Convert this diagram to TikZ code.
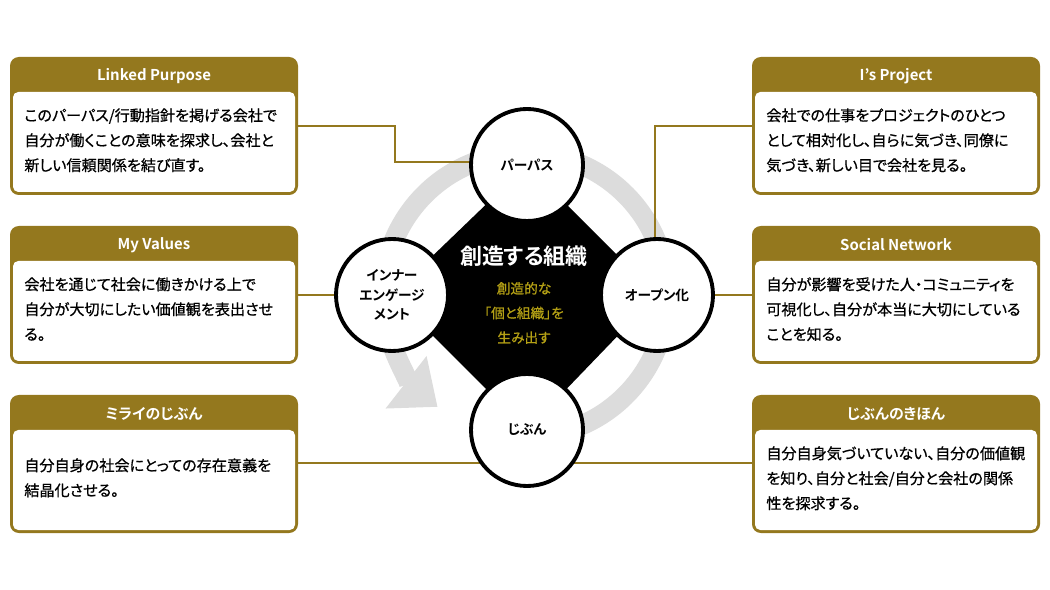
\documentclass[tikz,border=0pt]{standalone}
\usepackage{fontspec}
\usetikzlibrary{arrows.meta}
\newfontfamily\jp[RawFeature=+palt,FakeBold=0.7]{Noto Sans CJK JP}
\newfontfamily\jpb[RawFeature=+palt]{Noto Sans CJK JP Bold}
\definecolor{gold}{HTML}{94781E}
\definecolor{ring}{HTML}{DCDCDC}
\begin{document}
\begin{tikzpicture}[x=0.02cm,y=-0.02cm,
  conn/.style={gold,line width=1.6pt},
  circ/.style={circle,draw=black,line width=2.2pt,fill=white,minimum size=112*0.02cm,inner sep=0pt,align=center,font=\jpb\fontsize{7.8}{11}\selectfont},
  head/.style={text=white,font=\jpb\fontsize{8.5}{10}\selectfont},
  body/.style={anchor=north west,align=left,inner sep=0pt,font=\jp\fontsize{8.6}{14.2}\selectfont}]
\useasboundingbox (0,0) rectangle (1050,590);
% boxes
\foreach \x/\y/\n in {10/57/a,10/226/b,10/395/c,752/57/d,752/226/e,752/395/f}{
  \fill[gold,rounded corners=5] (\x,\y) rectangle ++(288,138);
  \fill[white,rounded corners=3] (\x+3,\y+35) rectangle ++(282,100);
  \coordinate (\n) at (\x,\y);
}
\node[head] (ha) at (154,76) {Linked Purpose};
\node[head] (hb) at (154,245) {My Values};
\node[head] (hc) at (154,414) {ミライのじぶん};
\node[head] (hd) at (896,76) {I’s Project};
\node[head] (he) at (896,245) {Social Network};
\node[head] (hf) at (896,414) {じぶんのきほん};
\node[body] (ba) at (24,108) {このパーパス/行動指針を掲げる会社で\\自分が働くことの意味を探求し、会社と\\新しい信頼関係を結び直す。};
\node[body] (bb) at (24,277) {会社を通じて社会に働きかける上で\\自分が大切にしたい価値観を表出させ\\る。};
\node[body] (bc) at (24,458) {自分自身の社会にとっての存在意義を\\結晶化させる。};
\node[body] (bd) at (766,108) {会社での仕事をプロジェクトのひとつ\\として相対化し、自らに気づき、同僚に\\気づき、新しい目で会社を見る。};
\node[body] (be) at (766,277) {自分が影響を受けた人・コミュニティを\\可視化し、自分が本当に大切にしている\\ことを知る。};
\node[body] (bf) at (766,446) {自分自身気づいていない、自分の価値観\\を知り、自分と社会/自分と会社の関係\\性を探求する。};
% coordinates for connectors
\coordinate (la) at (298,126); \coordinate (ra) at (752,126);
\coordinate (lb) at (298,295); \coordinate (rb) at (752,295);
\coordinate (lc) at (298,463); \coordinate (rc) at (752,463);
% diamond
\fill[black] (527,165) -- (657,295) -- (527,430) -- (392,295) -- cycle;
% ring
\draw[ring,line width=20*0.02cm,-{Triangle[length=40*0.02cm,width=64*0.02cm]}]
  ([shift={(74:142)}]525,295) arc[start angle=74,end angle=-232,radius=142];
% connectors
\coordinate (cp) at (475,162);
\draw[conn] (la) -- (395,126) -- (395,162) -- (cp);
\draw[conn] (ra) -- (655,126) -- (655,245);
\draw[conn] (lb) -- (340,295);
\draw[conn] (rb) -- (710,295);
\draw[conn] (lc) -- (rc);
% circles
\node[circ] (p) at (527,165) {パーパス};
\node[circ] (i) at (392,295) {インナー\\エンゲージ\\メント};
\node[circ] (o) at (657,295) {オープン化};
\node[circ] (j) at (527,430) {じぶん};
\node[text=white,font=\jpb\fontsize{12.5}{14}\selectfont] (t) at (524,256) {創造する組織};
\node[text=gold!70!yellow,align=center,font=\jp\fontsize{7.8}{14}\selectfont] (s) at (524,313) {創造的な\\「個と組織」を\\生み出す};
\end{tikzpicture}
\end{document}
